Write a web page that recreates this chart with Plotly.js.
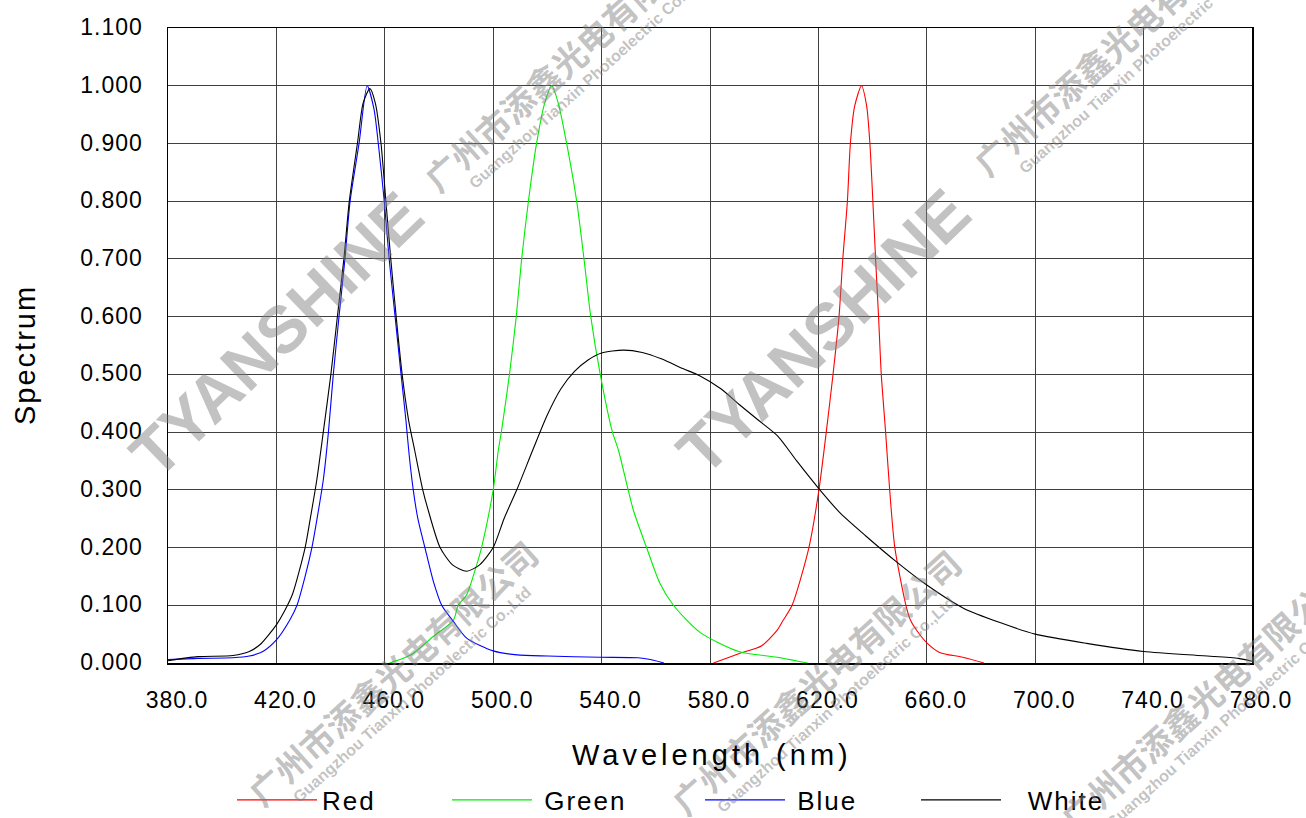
<!DOCTYPE html>
<html>
<head>
<meta charset="utf-8">
<script src="https://cdn.plot.ly/plotly-3.0.1.min.js"></script>
<style>html,body{margin:0;padding:0;background:#fff;}#chart{width:1306px;height:818px;}</style>
</head>
<body>
<div id="chart"></div>
<script>
// ---- data ----
const seriesNames = ['Red', 'Green', 'Blue', 'White'];

const redWavelength = [581.3, 590.6, 599.1, 604.8, 607.0, 610.3, 616.5, 620.2, 622.9, 625.4, 627.6, 629.0, 630.7, 631.8, 633.4, 635.9, 637.8, 639.0, 640.1, 641.1, 642.2, 643.2, 644.8, 646.3, 648.2, 652.3, 654.0, 656.5, 660.2, 664.8, 667.3, 673.3, 681.1];
const redValue = [0.000, 0.016, 0.030, 0.057, 0.074, 0.100, 0.200, 0.300, 0.400, 0.500, 0.600, 0.700, 0.800, 0.900, 0.965, 1.000, 0.965, 0.900, 0.800, 0.700, 0.600, 0.500, 0.400, 0.300, 0.200, 0.100, 0.074, 0.055, 0.034, 0.018, 0.015, 0.010, 0.000];

const greenWavelength = [461.7, 465.6, 470.0, 477.9, 485.3, 487.1, 490.2, 493.9, 495.7, 500.0, 501.9, 503.0, 506.0, 508.5, 510.5, 513.0, 516.0, 519.0, 521.6, 524.0, 527.1, 530.8, 533.5, 536.0, 539.5, 544.0, 546.2, 551.7, 556.6, 561.5, 566.5, 576.3, 590.6, 604.8, 616.0];
const greenValue = [0.000, 0.006, 0.015, 0.046, 0.074, 0.100, 0.118, 0.170, 0.200, 0.300, 0.369, 0.400, 0.500, 0.600, 0.700, 0.800, 0.900, 0.970, 1.000, 0.970, 0.900, 0.800, 0.700, 0.600, 0.500, 0.400, 0.369, 0.265, 0.200, 0.138, 0.100, 0.053, 0.020, 0.010, 0.000];

const blueWavelength = [380.0, 391.0, 404.0, 410.0, 415.0, 420.0, 425.0, 427.6, 430.6, 433.1, 435.0, 437.3, 439.2, 441.0, 443.1, 445.3, 447.2, 450.5, 453.5, 456.0, 457.6, 459.8, 461.6, 463.8, 466.0, 467.8, 469.0, 470.5, 472.2, 474.8, 478.0, 481.0, 485.3, 490.2, 500.0, 508.8, 520.0, 539.4, 553.5, 558.0, 563.0];
const blueValue = [0.006, 0.008, 0.009, 0.012, 0.020, 0.040, 0.075, 0.100, 0.150, 0.200, 0.250, 0.317, 0.400, 0.500, 0.600, 0.700, 0.800, 0.900, 1.000, 0.960, 0.900, 0.800, 0.700, 0.600, 0.500, 0.420, 0.360, 0.300, 0.250, 0.200, 0.140, 0.100, 0.072, 0.043, 0.021, 0.014, 0.012, 0.010, 0.009, 0.006, 0.000];

const whiteWavelength = [380.0, 391.0, 404.0, 410.0, 414.0, 417.0, 420.0, 423.0, 426.0, 430.6, 432.5, 434.9, 437.3, 440.1, 442.5, 444.9, 446.9, 449.9, 452.0, 454.5, 456.5, 458.6, 460.4, 462.2, 464.2, 466.4, 468.8, 471.0, 474.0, 476.0, 480.4, 485.0, 490.2, 495.0, 500.0, 504.0, 508.7, 514.6, 520.0, 525.0, 530.0, 535.0, 540.0, 548.0, 555.0, 562.0, 570.0, 576.0, 584.0, 591.0, 598.0, 605.0, 612.0, 620.0, 628.0, 637.5, 648.6, 660.0, 673.5, 687.0, 700.0, 719.0, 740.0, 762.0, 775.0, 780.0];
const whiteValue = [0.004, 0.011, 0.013, 0.020, 0.032, 0.048, 0.066, 0.090, 0.120, 0.200, 0.250, 0.317, 0.400, 0.500, 0.600, 0.700, 0.800, 0.900, 0.970, 0.995, 0.970, 0.900, 0.800, 0.700, 0.600, 0.500, 0.420, 0.369, 0.300, 0.265, 0.200, 0.170, 0.159, 0.170, 0.200, 0.250, 0.300, 0.369, 0.430, 0.475, 0.505, 0.525, 0.537, 0.542, 0.538, 0.527, 0.510, 0.498, 0.475, 0.447, 0.420, 0.393, 0.350, 0.303, 0.260, 0.220, 0.176, 0.135, 0.095, 0.070, 0.050, 0.034, 0.020, 0.0125, 0.008, 0.003];

const xTickValues = [380, 420, 460, 500, 540, 580, 620, 660, 700, 740, 780];
const xTickLabels = ['380.0', '420.0', '460.0', '500.0', '540.0', '580.0', '620.0', '660.0', '700.0', '740.0', '780.0'];
const yTickValues = [0, 0.1, 0.2, 0.3, 0.4, 0.5, 0.6, 0.7, 0.8, 0.9, 1.0, 1.1];
const yTickLabels = ['0.000', '0.100', '0.200', '0.300', '0.400', '0.500', '0.600', '0.700', '0.800', '0.900', '1.000', '1.100'];

const xTitle = 'Wavelength (nm)';
const yTitle = 'Spectrum';
const brandMark = 'TYANSHINE';
const companyCN = '广州市添鑫光电有限公司';
const companyEN = 'Guangzhou Tianxin Photoelectric Co.,Ltd';

// ---- styling / rendering ----
const FONT = 'Liberation Sans, Arial, sans-serif';
const spaced = (t, px) => '<span style="letter-spacing:' + px + 'px">' + t + '</span>';
const L = 168, T = 28, W = 1084, H = 635;
const px2x = p => (p - L) / W;
const px2y = p => (T + H - p) / H;

const colors = ['#ff0000', '#00ee00', '#0000ff', '#000000'];
const xs = [redWavelength, greenWavelength, blueWavelength, whiteWavelength];
const ys = [redValue, greenValue, blueValue, whiteValue];
const legendWidths = [120, 158, 121, 100];
const legendLead = ['', '&nbsp;', '&nbsp;', '&nbsp;&nbsp;&nbsp;'];

const traces = seriesNames.map((n, i) => ({
  type: 'scatter', mode: 'lines',
  x: xs[i], y: ys[i],
  name: legendLead[i] + spaced(n, 2),
  line: {color: colors[i], width: 1.1, shape: 'spline', smoothing: 0.7},
  legendwidth: legendWidths[i],
  hoverinfo: 'x+y'
}));

const wmColor = 'rgba(128,128,128,0.48)';
const annotations = [];
// big brand marks
[[276, 335], [823, 332]].forEach(p => annotations.push({
  xref: 'paper', yref: 'paper', x: px2x(p[0]), y: px2y(p[1]),
  text: '<b>' + brandMark + '</b>', showarrow: false, textangle: -44,
  font: {family: FONT, size: 66, color: wmColor}, xanchor: 'center', yanchor: 'middle'
}));
// company marks
[[568, 58], [392, 672], [816, 682], [1205, 698], [1118, 43]].forEach(p => {
  annotations.push({
    xref: 'paper', yref: 'paper', x: px2x(p[0]), y: px2y(p[1]),
    text: '<b>' + companyCN + '</b>', showarrow: false, textangle: -42,
    font: {family: 'Noto Sans CJK SC', size: 34, color: wmColor}, xanchor: 'center', yanchor: 'middle'
  });
  annotations.push({
    xref: 'paper', yref: 'paper', x: px2x(p[0] + 20), y: px2y(p[1] + 22),
    text: '<b>' + companyEN + '</b>', showarrow: false, textangle: -42,
    font: {family: FONT, size: 16, color: wmColor}, xanchor: 'center', yanchor: 'middle'
  });
});
// axis titles
annotations.push({
  xref: 'paper', yref: 'paper', x: px2x(712), y: px2y(755),
  text: spaced(xTitle, 4), showarrow: false, xanchor: 'center', yanchor: 'middle',
  font: {family: FONT, size: 29, color: '#000'}
});
annotations.push({
  xref: 'paper', yref: 'paper', x: px2x(25), y: px2y(355),
  text: spaced(yTitle, 2), showarrow: false, xanchor: 'center', yanchor: 'middle', textangle: -90,
  font: {family: FONT, size: 29, color: '#000'}
});

const layout = {
  width: 1306, height: 818,
  margin: {l: L, r: 1306 - L - W, t: T, b: 818 - T - H, autoexpand: false},
  paper_bgcolor: '#fff', plot_bgcolor: '#fff',
  showlegend: true,
  legend: {
    orientation: 'h', x: px2x(232), xanchor: 'left', y: px2y(800), yanchor: 'middle',
    font: {family: FONT, size: 26, color: '#000'}, itemwidth: 80, bgcolor: 'rgba(0,0,0,0)'
  },
  xaxis: {
    range: [380, 780], tickmode: 'array', tickvals: xTickValues, ticktext: xTickLabels.map(t => spaced(t, 1)),
    showgrid: true, gridcolor: '#404040', gridwidth: 1, zeroline: false,
    showline: true, linecolor: '#000', linewidth: 1.5, mirror: true,
    ticks: '', ticklabelstandoff: 16, ticklabelshift: 9,
    tickfont: {family: FONT, size: 23, color: '#000'}, fixedrange: true
  },
  yaxis: {
    range: [0, 1.1], tickmode: 'array', tickvals: yTickValues, ticktext: yTickLabels.map(t => spaced(t, 1)),
    showgrid: true, gridcolor: '#404040', gridwidth: 1, zeroline: false,
    showline: true, linecolor: '#000', linewidth: 1.5, mirror: true,
    ticks: '', ticklabelstandoff: 19, ticklabelshift: -1,
    tickfont: {family: FONT, size: 23, color: '#000'}, fixedrange: true
  },
  annotations: annotations
};

Plotly.newPlot('chart', traces, layout, {displayModeBar: false, staticPlot: true});
</script>
</body>
</html>
